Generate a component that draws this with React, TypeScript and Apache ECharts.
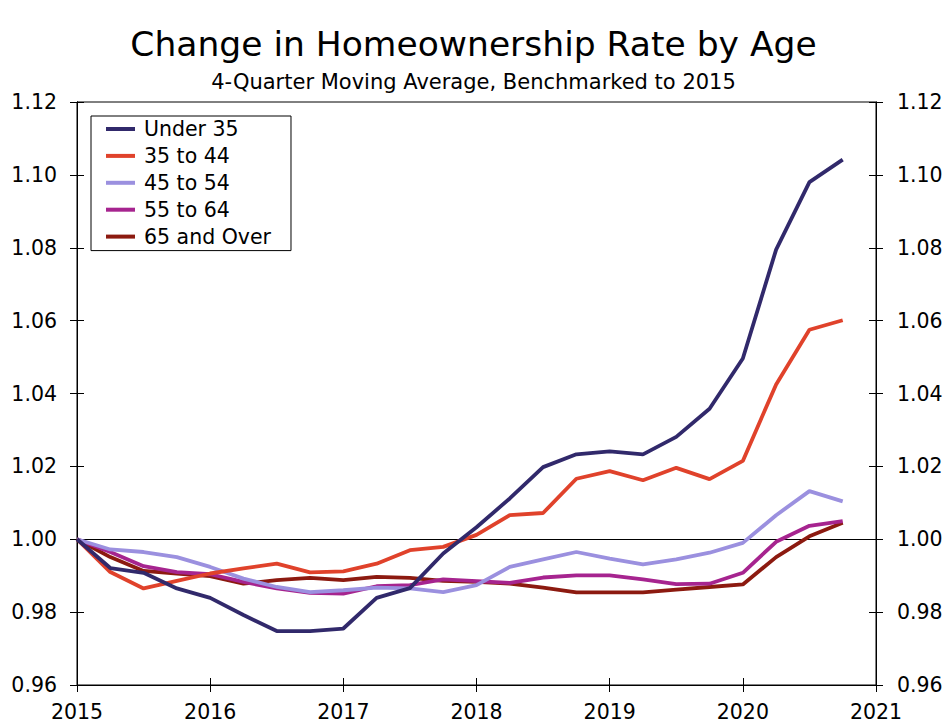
import React, { useEffect, useRef } from "react";
import * as echarts from "echarts";

const quarters = [
  "2015Q1", "2015Q2", "2015Q3", "2015Q4",
  "2016Q1", "2016Q2", "2016Q3", "2016Q4",
  "2017Q1", "2017Q2", "2017Q3", "2017Q4",
  "2018Q1", "2018Q2", "2018Q3", "2018Q4",
  "2019Q1", "2019Q2", "2019Q3", "2019Q4",
  "2020Q1", "2020Q2", "2020Q3", "2020Q4",
];

const under35 = [
  1.0, 0.9921, 0.9908, 0.9865, 0.9839, 0.9792, 0.9748, 0.9748,
  0.9755, 0.9839, 0.9866, 0.9961, 1.0033, 1.0112, 1.0198, 1.0233,
  1.0241, 1.0233, 1.0281, 1.0358, 1.0496, 1.0795, 1.098, 1.1042,
];
const age35to44 = [
  1.0, 0.991, 0.9865, 0.9886, 0.9906, 0.992, 0.9933, 0.9909,
  0.9912, 0.9933, 0.997, 0.9979, 1.0012, 1.0066, 1.0072, 1.0166,
  1.0187, 1.0162, 1.0196, 1.0165, 1.0215, 1.0425, 1.0575, 1.0601,
];
const age45to54 = [
  1.0, 0.9972, 0.9965, 0.9951, 0.9924, 0.9892, 0.9869, 0.9855,
  0.986, 0.9867, 0.9865, 0.9855, 0.9874, 0.9924, 0.9945, 0.9965,
  0.9947, 0.9931, 0.9945, 0.9963, 0.999, 1.0066, 1.0132, 1.0104,
];
const age55to64 = [
  1.0, 0.9965, 0.9926, 0.991, 0.9904, 0.9883, 0.9865, 0.9853,
  0.9851, 0.9871, 0.9874, 0.989, 0.9885, 0.988, 0.9895, 0.9901,
  0.9901, 0.989, 0.9877, 0.9878, 0.9908, 0.9993, 1.0037, 1.005,
];
const age65plus = [
  1.0, 0.9951, 0.9913, 0.9906, 0.9899, 0.9878, 0.9888, 0.9894,
  0.9888, 0.9897, 0.9894, 0.9886, 0.9883, 0.9878, 0.9867, 0.9854,
  0.9854, 0.9854, 0.9862, 0.9869, 0.9876, 0.9951, 1.0008, 1.0045,
];

const seriesNames = ["Under 35", "35 to 44", "45 to 54", "55 to 64", "65 and Over"];
const seriesValues = [under35, age35to44, age45to54, age55to64, age65plus];
const seriesColors = ["#31296b", "#e0422b", "#9b90df", "#a6248f", "#8c1a10"];

const yTicks = [0.96, 0.98, 1.0, 1.02, 1.04, 1.06, 1.08, 1.1, 1.12];
const xTicks = [2015, 2016, 2017, 2018, 2019, 2020, 2021];

const FONT = "DejaVu Sans";
const LABEL_SIZE = 20.5;

function quarterToYear(q: string): number {
  const year = parseInt(q.slice(0, 4), 10);
  const qn = parseInt(q.slice(5), 10);
  return year + (qn - 1) / 4;
}

export default function App() {
  const ref = useRef<HTMLDivElement>(null);

  useEffect(() => {
    if (!ref.current) return;
    const chart = echarts.init(ref.current, null, { renderer: "svg" });

    const yMin = yTicks[0];
    const yMax = yTicks[yTicks.length - 1];
    const xMin = xTicks[0];
    const xMax = xTicks[xTicks.length - 1];

    const yAxisBase = {
      type: "value",
      min: yMin,
      max: yMax,
      interval: 0.02,
      splitLine: { show: false },
      axisLine: { show: true, lineStyle: { color: "#000", width: 1 } },
    };
    const yLabel = (margin: number) => ({
      show: true,
      color: "#000",
      fontFamily: FONT,
      fontSize: LABEL_SIZE,
      margin,
      formatter: (v: number) => v.toFixed(2),
    });
    const xAxisBase = {
      type: "value",
      min: xMin,
      max: xMax,
      interval: 1,
      splitLine: { show: false },
      axisLine: { show: true, lineStyle: { color: "#000", width: 1 } },
    };

    const series: any[] = seriesNames.map((name, i) => ({
      name,
      type: "line",
      data: quarters.map((q, j) => [quarterToYear(q), seriesValues[i][j]]),
      showSymbol: false,
      symbol: "none",
      lineStyle: { color: seriesColors[i], width: 3.8 },
      itemStyle: { color: seriesColors[i] },
      z: 3 + (seriesNames.length - i),
    }));
    series[0].markLine = {
      silent: true,
      symbol: "none",
      label: { show: false },
      lineStyle: { color: "#000", width: 1, type: "solid" },
      data: [{ yAxis: 1.0 }],
      z: 1,
    };

    chart.setOption({
      animation: false,
      backgroundColor: "#fff",
      title: [
        {
          text: "Change in Homeownership Rate by Age",
          left: "center",
          top: 21,
          textStyle: { fontFamily: FONT, fontSize: 34.5, fontWeight: "normal", color: "#000" },
        },
        {
          text: "4-Quarter Moving Average, Benchmarked to 2015",
          left: "center",
          top: 66,
          textStyle: { fontFamily: FONT, fontSize: 21, fontWeight: "normal", color: "#000" },
        },
      ],
      legend: {
        orient: "vertical",
        left: 91,
        top: 116,
        data: seriesNames,
        icon: "rect",
        itemWidth: 29,
        itemHeight: 4,
        itemGap: 4.9,
        padding: [2, 20, 3, 15],
        borderColor: "#000",
        borderWidth: 1,
        backgroundColor: "#fff",
        textStyle: { fontFamily: FONT, fontSize: LABEL_SIZE, color: "#000", lineHeight: 22, padding: [0, 0, 0, 4] },
      },
      grid: {
        left: 77,
        right: 71,
        top: 102,
        bottom: 42,
        show: true,
        borderColor: "#000",
        borderWidth: 1,
        containLabel: false,
      },
      xAxis: [
        {
          ...xAxisBase,
          position: "bottom",
          axisTick: { show: true, inside: false, length: 7, lineStyle: { color: "#000" } },
          axisLabel: {
            show: true,
            color: "#000",
            fontFamily: FONT,
            fontSize: LABEL_SIZE,
            margin: 16,
            formatter: (v: number) => String(v),
          },
        },
        {
          ...xAxisBase,
          position: "bottom",
          axisTick: { show: true, inside: true, length: 7, lineStyle: { color: "#000" } },
          axisLabel: { show: false },
        },
      ],
      yAxis: [
        {
          ...yAxisBase,
          position: "left",
          axisTick: { show: true, inside: false, length: 7, lineStyle: { color: "#000" } },
          axisLabel: yLabel(20),
        },
        {
          ...yAxisBase,
          position: "left",
          axisTick: { show: true, inside: true, length: 7, lineStyle: { color: "#000" } },
          axisLabel: { show: false },
        },
        {
          ...yAxisBase,
          position: "right",
          axisTick: { show: true, inside: false, length: 7, lineStyle: { color: "#000" } },
          axisLabel: yLabel(21),
        },
        {
          ...yAxisBase,
          position: "right",
          axisTick: { show: true, inside: true, length: 7, lineStyle: { color: "#000" } },
          axisLabel: { show: false },
        },
      ],
      series,
    });

    return () => {
      chart.dispose();
    };
  }, []);

  return (
    <div
      ref={ref}
      style={{ position: "absolute", left: 0, top: 0, width: 947, height: 727 }}
    />
  );
}
